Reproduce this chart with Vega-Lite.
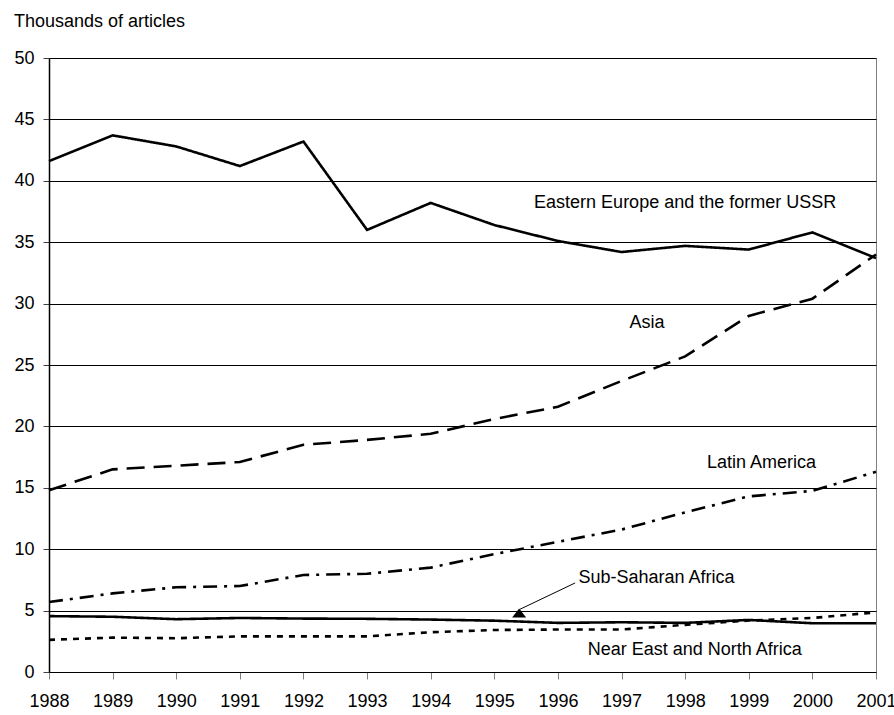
{
  "$schema": "https://vega.github.io/schema/vega-lite/v6.json",
  "width": 827,
  "height": 614,
  "autosize": {"type": "none"},
  "padding": {"left": 49, "top": 58, "right": 18, "bottom": 43},
  "background": "white",
  "config": {
    "font": "Liberation Sans",
    "view": {"stroke": "#808080", "strokeWidth": 1},
    "title": {"font": "Liberation Sans", "fontSize": 18, "fontWeight": "normal", "color": "#000"}
  },
  "title": {"text": "Thousands of articles", "anchor": "start", "frame": "bounds", "offset": 18},
  "datasets": {
    "series": [
      {"year": 1988, "region": "Eastern Europe and the former USSR", "value": 41.6},
      {"year": 1989, "region": "Eastern Europe and the former USSR", "value": 43.7},
      {"year": 1990, "region": "Eastern Europe and the former USSR", "value": 42.8},
      {"year": 1991, "region": "Eastern Europe and the former USSR", "value": 41.2},
      {"year": 1992, "region": "Eastern Europe and the former USSR", "value": 43.2},
      {"year": 1993, "region": "Eastern Europe and the former USSR", "value": 36.0},
      {"year": 1994, "region": "Eastern Europe and the former USSR", "value": 38.2},
      {"year": 1995, "region": "Eastern Europe and the former USSR", "value": 36.4},
      {"year": 1996, "region": "Eastern Europe and the former USSR", "value": 35.1},
      {"year": 1997, "region": "Eastern Europe and the former USSR", "value": 34.2},
      {"year": 1998, "region": "Eastern Europe and the former USSR", "value": 34.7},
      {"year": 1999, "region": "Eastern Europe and the former USSR", "value": 34.4},
      {"year": 2000, "region": "Eastern Europe and the former USSR", "value": 35.8},
      {"year": 2001, "region": "Eastern Europe and the former USSR", "value": 33.7},
      {"year": 1988, "region": "Asia", "value": 14.8},
      {"year": 1989, "region": "Asia", "value": 16.5},
      {"year": 1990, "region": "Asia", "value": 16.8},
      {"year": 1991, "region": "Asia", "value": 17.1},
      {"year": 1992, "region": "Asia", "value": 18.5},
      {"year": 1993, "region": "Asia", "value": 18.9},
      {"year": 1994, "region": "Asia", "value": 19.4},
      {"year": 1995, "region": "Asia", "value": 20.6},
      {"year": 1996, "region": "Asia", "value": 21.6},
      {"year": 1997, "region": "Asia", "value": 23.7},
      {"year": 1998, "region": "Asia", "value": 25.7},
      {"year": 1999, "region": "Asia", "value": 29.0},
      {"year": 2000, "region": "Asia", "value": 30.4},
      {"year": 2001, "region": "Asia", "value": 34.0},
      {"year": 1988, "region": "Latin America", "value": 5.7},
      {"year": 1989, "region": "Latin America", "value": 6.4},
      {"year": 1990, "region": "Latin America", "value": 6.9},
      {"year": 1991, "region": "Latin America", "value": 7.0},
      {"year": 1992, "region": "Latin America", "value": 7.9},
      {"year": 1993, "region": "Latin America", "value": 8.0},
      {"year": 1994, "region": "Latin America", "value": 8.5},
      {"year": 1995, "region": "Latin America", "value": 9.6},
      {"year": 1996, "region": "Latin America", "value": 10.6},
      {"year": 1997, "region": "Latin America", "value": 11.6},
      {"year": 1998, "region": "Latin America", "value": 13.0},
      {"year": 1999, "region": "Latin America", "value": 14.3},
      {"year": 2000, "region": "Latin America", "value": 14.75},
      {"year": 2001, "region": "Latin America", "value": 16.3},
      {"year": 1988, "region": "Sub-Saharan Africa", "value": 4.55},
      {"year": 1989, "region": "Sub-Saharan Africa", "value": 4.5},
      {"year": 1990, "region": "Sub-Saharan Africa", "value": 4.3},
      {"year": 1991, "region": "Sub-Saharan Africa", "value": 4.4},
      {"year": 1992, "region": "Sub-Saharan Africa", "value": 4.35},
      {"year": 1993, "region": "Sub-Saharan Africa", "value": 4.33},
      {"year": 1994, "region": "Sub-Saharan Africa", "value": 4.27},
      {"year": 1995, "region": "Sub-Saharan Africa", "value": 4.18},
      {"year": 1996, "region": "Sub-Saharan Africa", "value": 4.0},
      {"year": 1997, "region": "Sub-Saharan Africa", "value": 4.05},
      {"year": 1998, "region": "Sub-Saharan Africa", "value": 4.0},
      {"year": 1999, "region": "Sub-Saharan Africa", "value": 4.24},
      {"year": 2000, "region": "Sub-Saharan Africa", "value": 3.97},
      {"year": 2001, "region": "Sub-Saharan Africa", "value": 3.97},
      {"year": 1988, "region": "Near East and North Africa", "value": 2.62},
      {"year": 1989, "region": "Near East and North Africa", "value": 2.8},
      {"year": 1990, "region": "Near East and North Africa", "value": 2.75},
      {"year": 1991, "region": "Near East and North Africa", "value": 2.9},
      {"year": 1992, "region": "Near East and North Africa", "value": 2.9},
      {"year": 1993, "region": "Near East and North Africa", "value": 2.9},
      {"year": 1994, "region": "Near East and North Africa", "value": 3.24},
      {"year": 1995, "region": "Near East and North Africa", "value": 3.42},
      {"year": 1996, "region": "Near East and North Africa", "value": 3.46},
      {"year": 1997, "region": "Near East and North Africa", "value": 3.46},
      {"year": 1998, "region": "Near East and North Africa", "value": 3.84},
      {"year": 1999, "region": "Near East and North Africa", "value": 4.19},
      {"year": 2000, "region": "Near East and North Africa", "value": 4.4},
      {"year": 2001, "region": "Near East and North Africa", "value": 4.86}
    ],
    "labels": [
      {"label": "Eastern Europe and the former USSR", "x": 1998.0, "y": 38.2},
      {"label": "Asia", "x": 1997.4, "y": 28.4},
      {"label": "Latin America", "x": 1999.2, "y": 17.0},
      {"label": "Sub-Saharan Africa", "x": 1997.55, "y": 7.65},
      {"label": "Near East and North Africa", "x": 1998.15, "y": 1.8}
    ],
    "arrow": [
      {"x": 1996.27, "y": 7.25, "x2": 1995.4, "y2": 5.1}
    ],
    "arrowhead": [
      {"x": 1995.39, "y": 4.8}
    ]
  },
  "layer": [
    {
      "data": {"name": "series"},
      "mark": {"type": "line", "strokeWidth": 2.6, "color": "#000", "strokeCap": "butt", "strokeJoin": "miter"},
      "encoding": {
        "x": {
          "field": "year", "type": "quantitative",
          "scale": {"domain": [1988, 2001], "nice": false, "zero": false},
          "axis": {
            "title": null, "values": [1988,1989,1990,1991,1992,1993,1994,1995,1996,1997,1998,1999,2000,2001],
            "format": "d", "grid": false, "domainColor": "#000", "domainWidth": 1,
            "tickColor": "#808080", "tickSize": 7, "labelFontSize": 18, "labelColor": "#000",
            "labelPadding": 13, "labelFont": "Liberation Sans", "labelOverlap": false, "labelFlush": false
          }
        },
        "y": {
          "field": "value", "type": "quantitative",
          "scale": {"domain": [0, 50], "nice": false},
          "axis": {
            "title": null, "values": [0,5,10,15,20,25,30,35,40,45,50],
            "grid": true, "gridColor": "#000", "gridWidth": 1, "gridOpacity": 1,
            "domainColor": "#000", "domainWidth": 1.5,
            "tickColor": "#404040", "tickSize": 6, "labelFontSize": 18, "labelColor": "#000",
            "labelPadding": 9, "labelFont": "Liberation Sans"
          }
        },
        "detail": {"field": "region"},
        "strokeDash": {
          "field": "region", "type": "nominal",
          "scale": {
            "domain": ["Eastern Europe and the former USSR", "Asia", "Latin America", "Sub-Saharan Africa", "Near East and North Africa"],
            "range": [[1, 0], [18, 9], [14, 7, 3, 7], [1, 0], [6, 6]]
          },
          "legend": null
        }
      }
    },
    {
      "data": {"name": "labels"},
      "mark": {"type": "text", "fontSize": 18, "font": "Liberation Sans", "color": "#000", "align": "center", "baseline": "middle"},
      "encoding": {
        "x": {"field": "x", "type": "quantitative"},
        "y": {"field": "y", "type": "quantitative"},
        "text": {"field": "label"}
      }
    },
    {
      "data": {"name": "arrow"},
      "mark": {"type": "rule", "color": "#000", "strokeWidth": 1},
      "encoding": {
        "x": {"field": "x", "type": "quantitative"},
        "y": {"field": "y", "type": "quantitative"},
        "x2": {"field": "x2"},
        "y2": {"field": "y2"}
      }
    },
    {
      "data": {"name": "arrowhead"},
      "mark": {"type": "point", "shape": "M-1,0.64L1,0.64L0,-0.64Z", "filled": true, "color": "#000", "size": 196, "opacity": 1, "strokeWidth": 0},
      "encoding": {
        "x": {"field": "x", "type": "quantitative"},
        "y": {"field": "y", "type": "quantitative"}
      }
    }
  ]
}
